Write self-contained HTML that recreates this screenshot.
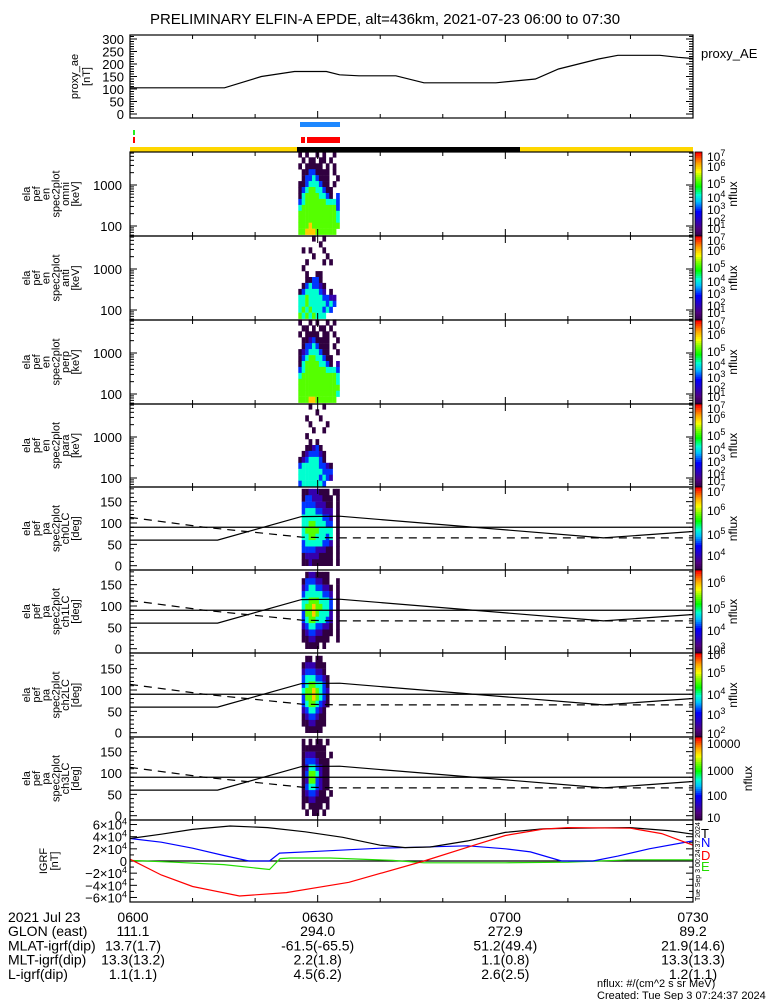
<!DOCTYPE html>
<html><head><meta charset="utf-8"><style>
html,body{margin:0;padding:0;background:#fff;}
svg{display:block;font-family:"Liberation Sans",sans-serif;}
</style></head><body>
<svg id="c" width="775" height="1000" viewBox="0 0 775 1000" xmlns="http://www.w3.org/2000/svg">
<text x="385" y="24" font-size="15" text-anchor="middle">PRELIMINARY ELFIN-A EPDE, alt=436km, 2021-07-23 06:00 to 07:30</text>
</svg>
<script>
// ---- data ----
const aeTimes=[0,15.1,21,26.3,31.4,33.5,36.6,42.5,47,58.5,64.8,68.5,74.9,78,84.7,87.6,90];
const aeValues=[105,105,150,170,170,157,153,153,125,125,140,180,220,235,235,227,222];
const aeTicks=[0,50,100,150,200,250,300];
const timeTicks=["0600","0630","0700","0730"];
const glon=["111.1","294.0","272.9","89.2"];
const mlat=["13.7(1.7)","-61.5(-65.5)","51.2(49.4)","21.9(14.6)"];
const mlt=["13.3(13.2)","2.2(1.8)","1.1(0.8)","13.3(13.3)"];
const lval=["1.1(1.1)","4.5(6.2)","2.6(2.5)","1.2(1.1)"];
const lcTimes=[0,14,27.4,33.5,75.7,90];
const lcSolid=[60,60,115,116,65,80];
const dashTimes=[0,12,27.4,33.5,90];
const lcDashed=[113,90,67,65,65];
const igrfBT=[0,5,10,16,22,28,34,40,44,48,54,60,66,72,80,86,90];
const igrfBV=[3.7,4.4,5.2,5.75,5.5,4.8,3.9,2.6,2.2,2.3,3.3,4.7,5.3,5.4,5.5,5.0,4.4];
const igrfNT=[0,5,10,15,19,22.3,23.9,30,40,54,60,64,69,74,78,83,90];
const igrfNV=[3.7,3.1,2.1,0.9,0,0,1.3,1.6,2.1,2.5,2.0,1.5,0,0,0.8,2.0,3.3];
const igrfDT=[0,5,10,17.5,25,35,47,55,60,66,70,80,85,90];
const igrfDV=[0.3,-2.3,-4.2,-5.75,-5.2,-3.5,0,2.6,4.2,5.25,5.5,5.4,4.5,2.6];
const igrfET=[0,7,15,22.3,24,25.5,32,42,47,60,70,80,90];
const igrfEV=[0.1,-0.2,-0.6,-1.4,0.4,0.5,0.5,0.1,-0.3,-0.3,-0.2,0.2,0.2];
const igrfTicks=[6,4,2,0,-2,-4,-6];
const specT0=26.9, specDt=0.55;
const specOmni=["101001010010","010110110100","101111101010","011331111010","013343111001","113444311010","134554431100","145555443103","345555554443","455555555553","555555555554","555555555554","555655555555","556665555550"];
const specAnti=["000010010000","000000100000","010100010000","000010001000","001000010100","010000000000","001001100000","001133100000","013433210000","134444320100","445444433220","445444443430","454544434300","545454440000"];
const specPerp=["100101001010","011010110100","101111011010","011231111001","013343111010","123444311001","134554431100","145555443102","345555554443","455555555554","555555555554","555555555555","555555555554","555665555550"];
const specPara=["000100010000","000001000000","001000100000","000100001000","000010010000","001000000000","000101000000","001123100000","012333210000","123444310000","344444332100","444444433300","444444343200","344444430000"];
const pa0=["011222111011","013322211101","033332221101","034443322201","044444433201","044554443301","045555444401","044554443401","034444433201","033332221101","012222111101","011211111101"];
const pa1=["001221111000","013332211001","023443322101","034444433201","044555444301","045565544301","035565444201","034554443201","023443322101","012332211101","011221111001","001111010000"];
const pa2=["001101100000","012221110000","023332210000","034443321000","034554431000","045565432000","035565431000","034554321000","023443210000","012332110000","011221110000","001111100000"];
const pa3=["010101101000","011111110000","012221110100","013332111000","012443211000","013554211000","012553211000","013443211000","012332110100","011221111000","010111101000","001011010000"];

// ---- helpers ----
const svg=document.getElementById('c');
const NS='http://www.w3.org/2000/svg';
function mk(tag,attrs,parent){const e=document.createElementNS(NS,tag);for(const k in attrs)e.setAttribute(k,attrs[k]);(parent||svg).appendChild(e);return e;}
const X0=130,X1=693;
function X(t){return X0+t*(X1-X0)/90;}
const stops=[[0,[48,0,64]],[0.1,[80,0,128]],[0.22,[32,0,208]],[0.3,[0,0,255]],[0.42,[0,192,255]],[0.5,[0,255,208]],[0.6,[0,255,0]],[0.7,[128,255,0]],[0.78,[255,255,0]],[0.88,[255,160,0]],[1,[255,0,0]]];
function cmap(f){f=Math.max(0,Math.min(1,f));for(let i=1;i<stops.length;i++){if(f<=stops[i][0]){const a=stops[i-1],b=stops[i];const u=(f-a[0])/(b[0]-a[0]);const c=a[1].map((v,j)=>Math.round(v+(b[1][j]-v)*u));return `rgb(${c[0]},${c[1]},${c[2]})`;}}return 'rgb(255,0,0)';}
function poly(ts,vs,Y,color,dash,name){const g=mk('polyline',{points:ts.map((t,i)=>X(t).toFixed(1)+','+Y(vs[i]).toFixed(1)).join(' '),fill:'none',stroke:color,'stroke-width':1.2});if(dash)g.setAttribute('stroke-dasharray',dash);


return g;}
function txt(x,y,s,size,anchor,name,rot){const t=mk('text',{x:x,y:y,'font-size':size,'text-anchor':anchor||'start'});t.textContent=s;if(rot)t.setAttribute('transform',`rotate(-90 ${x} ${y})`);


return t;}
function frame(top,bot,name){const r=mk('rect',{x:X0,y:top,width:X1-X0,height:bot-top,fill:'none',stroke:'#000','stroke-width':1.2});


for(let m=10;m<90;m+=10){const x=X(m);const len=(m%30===0)?7:4;mk('line',{x1:x,y1:top,x2:x,y2:top+len,stroke:'#000'});mk('line',{x1:x,y1:bot,x2:x,y2:bot-len,stroke:'#000'});}}
function tickAt(y,len){mk('line',{x1:X0,y1:y,x2:X0+len,y2:y,stroke:'#000'});mk('line',{x1:X1,y1:y,x2:X1-len,y2:y,stroke:'#000'});}
function sideLabel(lines,top,bot,x0,step,name){const cy=(top+bot)/2;lines.forEach((s,i)=>{txt(x0+i*step,cy,s,11,'middle',name+'-'+i,true);});}
function colorbar(top,bot,labels,name,nx){const h=bot-top;for(let i=0;i<40;i++){mk('rect',{x:695,y:top+h*i/40,width:7,height:h/40+0.6,fill:cmap(1-i/40)});}
const o=mk('rect',{x:695,y:top,width:7,height:h,fill:'none',stroke:'#000','stroke-width':0.8});


labels.forEach(l=>{const t=mk('text',{x:707,y:top+l[1]+5,'font-size':12});if(l[2]){t.textContent='10';const s=mk('tspan',{dy:-5,'font-size':9},t);s.textContent=l[0];}else t.textContent=l[0];

});
txt(nx||737,(top+bot)/2,'nflux',12,'middle',name+'-title',true);}
function spec(data,rowTop,name){data.forEach((row,ri)=>{for(let ci=0;ci<row.length;ci++){const d=+row[ci];if(!d)continue;const y0=rowTop(ri),y1=rowTop(ri+1);const x0=X(specT0+ci*specDt),x1=X(specT0+(ci+1)*specDt);const r=mk('rect',{x:x0.toFixed(1),y:y0.toFixed(1),width:(x1-x0+0.3).toFixed(1),height:(y1-y0+0.3).toFixed(1),fill:cmap((d-1)/6)});

}});}

// ---- proxy AE panel ----
const PT=35,PB=118;const aeY=v=>114-v*0.25;
for(let v=0;v<=310;v+=10)tickAt(aeY(v),v%50===0?7:4);
aeTicks.forEach(v=>txt(124,aeY(v)+5,String(v),13,'end','ae-tick-'+v));
poly(aeTimes,aeValues,aeY,'#000',null,'proxy-ae-line');
frame(PT,PB,'proxy-ae-panel');
sideLabel(['proxy_ae','[nT]'],PT,PB,78,12,'proxy-ae-ylabel');
txt(701,58,'proxy_AE',13,'start','proxy-ae-legend');

// ---- status bars ----
function bar(x0,x1,y,h,c,n){const r=mk('rect',{x:x0,y:y,width:x1-x0,height:h,fill:c});

}
bar(300,340,122,5,'#1e88ff','science-zone-bar');
bar(133,135,130,5,'#22ee22','green-flag');
bar(133,135,137,6,'#ff0000','red-flag-left');
bar(301,305,137,6,'#ff0000','red-flag-a');
bar(307,340,137,6,'#ff0000','red-flag-b');
bar(130,297,147,5,'#ffd700','sunlit-bar-left');
bar(297,520,147,5,'#000000','eclipse-bar');
bar(520,693,147,5,'#ffd700','sunlit-bar-right');

// ---- energy panels ----
const ePanels=[[152,236,specOmni,'omni'],[236,320,specAnti,'anti'],[320,404,specPerp,'perp'],[404,487,specPara,'para']];
const cbE=[['7',4,1],['6',14,1],['5',31,1],['4',45,1],['3',57,1],['2',69,1],['1',76,1]];
ePanels.forEach(p=>{const top=p[0],bot=p[1];const eY=lg=>top+33-(lg-3)*41;
spec(p[2],ri=>eY(3.82-0.145*ri),'spec-'+p[3]);
for(let dec=1;dec<=4;dec++)for(let m=1;m<10;m++){const y=eY(dec+Math.log10(m));if(y>top&&y<bot)tickAt(y,m===1?7:4);}
txt(122,eY(3)+5,'1000',13,'end','tick-1000-'+p[3]);txt(122,eY(2)+5,'100',13,'end','tick-100-'+p[3]);
frame(top,bot,'energy-panel-'+p[3]);
sideLabel(['ela','pef','en','spec2plot',p[3],'[keV]'],top,bot,30,9.8,'ylabel-'+p[3]);
colorbar(top,bot,cbE,'colorbar-'+p[3]);});

// ---- pitch-angle panels ----
const paPanels=[[487,570,pa0,'ch0LC',[['7',4,1],['6',23,1],['5',47,1],['4',68,1]],737],[570,653,pa1,'ch1LC',[['6',12,1],['5',38,1],['4',60,1],['3',79,1]],737],[653,737,pa2,'ch2LC',[['6',1,1],['5',19,1],['4',41,1],['3',61,1],['2',80,1]],737],[737,820,pa3,'ch3LC',[['10000',6,0],['1000',33,0],['100',58,0],['10',80,0]],752]];
paPanels.forEach(p=>{const top=p[0],bot=p[1];const pY=d=>bot-4.3-d*0.427;
spec(p[2],ri=>pY(180-15*ri),'spec-'+p[3]);
for(let d=-10;d<=190;d+=10){const y=pY(d);if(y>top&&y<bot)tickAt(y,d%50===0?7:4);}
[150,100,50,0].forEach(d=>txt(122,pY(d)+5,String(d),13,'end','tick-'+d+'-'+p[3]));
mk('line',{x1:X0,y1:pY(90),x2:X1,y2:pY(90),stroke:'#000','stroke-width':1.2});
poly(lcTimes,lcSolid,pY,'#000',null,'loss-cone-'+p[3]);
poly(dashTimes,lcDashed,pY,'#000','8,6','anti-loss-cone-'+p[3]);
frame(top,bot,'pa-panel-'+p[3]);
sideLabel(['ela','pef','pa','spec2plot',p[3],'[deg]'],top,bot,30,9.8,'ylabel-'+p[3]);
colorbar(top,bot,p[4],'colorbar-'+p[3],p[5]);});

// ---- IGRF panel ----
const IT=820,IB=902;const iY=v=>861-v*6.08;
for(let v=-6;v<=6;v+=1)tickAt(iY(v),v%2===0?7:4);
igrfTicks.forEach(v=>{const t=mk('text',{x:127,y:iY(v)+5,'font-size':13,'text-anchor':'end'});if(v===0)t.textContent='0';else{t.textContent=(v<0?'\u2212':'')+Math.abs(v)+'\u00d710';const s=mk('tspan',{dy:-5,'font-size':9},t);s.textContent='4';}

});
mk('line',{x1:X0,y1:iY(0),x2:X1,y2:iY(0),stroke:'#000','stroke-width':1.2});
poly(igrfET,igrfEV,iY,'#22dd00',null,'igrf-e-line');
poly(igrfNT,igrfNV,iY,'#0000ff',null,'igrf-n-line');
poly(igrfBT,igrfBV,iY,'#000',null,'igrf-total-line');
poly(igrfDT,igrfDV,iY,'#ff0000',null,'igrf-d-line');
frame(IT,IB,'igrf-panel');
sideLabel(['IGRF','[nT]'],IT,IB,47,11,'igrf-ylabel');
[['T','#000',833],['N','#0000ff',842],['D','#ff0000',855],['E','#22dd00',866]].forEach(l=>{const t=mk('text',{x:701,y:l[2]+5,'font-size':13,fill:l[1]});t.textContent=l[0];

});
txt(700,901,'Tue Sep  3 00:24:37 2024',7,'start','creation-stamp-vertical',true);

// ---- footer ----
const rows=[['2021 Jul 23',timeTicks],['GLON (east)',glon],['MLAT-igrf(dip)',mlat],['MLT-igrf(dip)',mlt],['L-igrf(dip)',lval]];
rows.forEach((r,ri)=>{const y=922+ri*14.2;txt(8,y,r[0],14,'start','footer-label-'+ri);r[1].forEach((s,i)=>txt(X(i*30)+(i===0?3:0),y,s,14,'middle','footer-val-'+ri+'-'+i));});
txt(597,987,'nflux: #/(cm^2 s sr MeV)',11,'start','units-note');
txt(597,999,'Created: Tue Sep  3 07:24:37 2024',11,'start','created-note');
</script>
</body></html>
